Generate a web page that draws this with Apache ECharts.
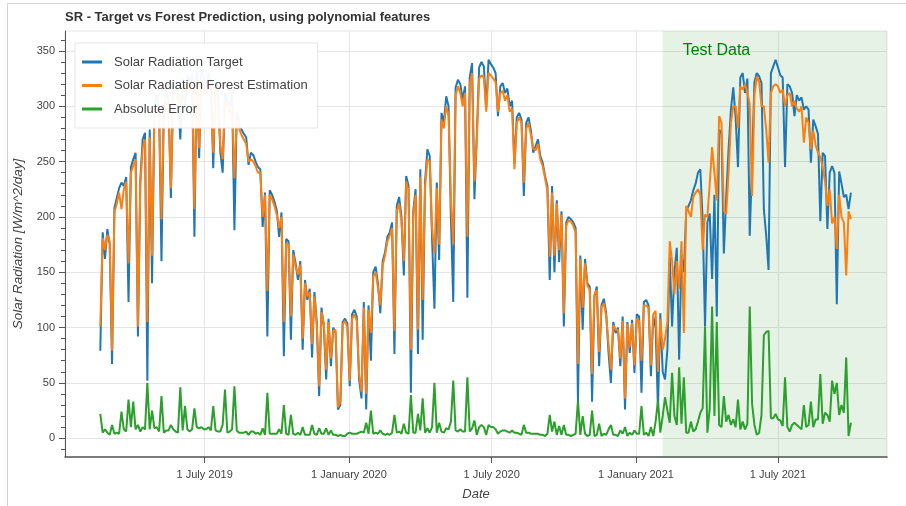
<!DOCTYPE html>
<html><head><meta charset="utf-8">
<script src="https://cdn.jsdelivr.net/npm/echarts@6/dist/echarts.min.js"></script>
<style>
html,body{margin:0;padding:0;background:#fff;}
#chart{position:absolute;left:0;top:0;width:906px;height:506px;}
#frame{position:absolute;left:7px;top:3px;width:899px;height:503px;border-left:1px solid #d4d4d4;border-top:1px solid #d4d4d4;pointer-events:none;}
</style></head><body>
<div id="chart"></div><div id="frame"></div>
<script>
// ---- data ----
const startDate = '2019-02-18';
const stepDays = 3;
const seriesNames = ['Solar Radiation Target', 'Solar Radiation Forest Estimation', 'Absolute Error'];
const target = [
79,186,162,189,175,67,208,217,226,231,
228,236,123,245,252,258,92,233,270,276,
52,279,140,300,310,296,160,300,312,305,
217,318,322,310,270,325,300,328,320,330,
182,332,253,335,326,318,330,322,244,325,
318,259,240,312,305,300,310,188,295,285,
279,275,272,247,258,256,250,245,243,191,
222,92,224,220,214,206,182,204,74,180,
178,89,170,158,143,160,80,143,125,135,
73,132,105,38,118,100,53,108,65,100,
95,26,30,105,108,104,47,112,116,110,
53,36,123,26,120,70,150,155,140,113,
160,168,182,186,195,76,210,218,200,147,
237,228,41,205,225,76,243,89,231,261,
255,180,117,231,161,294,285,309,300,200,
123,317,324,320,306,318,127,326,339,216,
273,335,340,336,298,342,338,335,330,291,
318,321,312,316,300,305,248,290,294,288,
219,285,290,278,258,264,270,255,249,237,
228,143,228,150,215,159,205,101,195,200,
198,195,190,33,165,98,162,140,137,33,
128,137,65,120,126,113,77,50,105,95,
100,65,110,26,105,77,107,59,112,110,
41,123,125,120,56,110,100,26,113,60,
53,80,164,101,150,172,71,165,150,205,
210,215,224,230,240,243,197,101,195,203,
144,220,110,279,275,167,218,261,297,317,
290,245,326,330,312,325,183,250,322,330,
327,321,207,183,152,330,336,342,335,328,
326,245,320,318,312,291,310,305,308,297,
300,297,249,288,282,275,196,258,255,189,
240,246,240,121,241,230,218,220,207,222
];
const forecast = [
101,181,170,184,178,79,204,212,222,207,
225,232,158,240,246,252,101,228,262,270,
105,272,165,292,300,290,198,295,305,298,
226,310,315,305,300,318,318,320,312,322,
207,322,262,325,318,310,320,315,258,318,
312,265,252,305,300,294,302,235,288,280,
274,270,266,250,252,250,246,240,240,200,
220,133,220,216,210,202,190,200,105,176,
175,110,166,155,148,157,90,140,128,132,
85,128,102,47,114,104,62,105,72,97,
98,28,33,103,106,100,52,108,112,106,
58,42,118,40,116,95,146,150,136,120,
156,165,178,183,190,97,205,212,196,160,
232,224,80,200,220,98,236,125,226,252,
250,190,167,226,175,288,280,300,292,215,
175,310,318,312,300,312,182,320,330,232,
270,325,328,326,295,330,328,325,322,295,
312,314,305,310,295,298,243,285,290,285,
231,280,285,274,262,260,266,252,246,235,
224,164,222,165,212,170,202,113,192,197,
196,192,186,67,162,118,158,138,134,58,
130,134,78,118,122,110,85,62,102,98,
98,72,106,36,103,82,104,66,108,106,
70,120,120,118,66,112,115,60,108,80,
90,105,178,160,130,160,135,178,95,210,
205,200,218,222,225,220,170,202,200,230,
263,240,215,291,285,205,203,240,285,300,
300,280,318,315,320,312,302,219,310,327,
322,300,300,279,249,312,318,320,318,312,
315,300,310,312,300,305,298,295,300,267,
290,285,261,278,265,258,254,245,232,210,
225,194,200,171,220,200,195,147,205,198
];
const absError = [
22,5,8,5,3,12,4,5,4,24,
8,6,35,10,33,8,12,6,10,8,
50,8,25,9,10,6,38,5,7,7,
12,8,6,5,46,7,29,8,6,8,
27,10,9,10,8,8,10,7,29,7,
6,6,12,44,5,6,8,47,7,5,
5,5,6,3,6,6,4,5,3,9,
3,41,4,4,4,4,8,4,30,4,
3,21,4,3,5,3,10,3,3,3,
12,4,3,9,4,4,9,3,7,3,
3,2,3,2,2,4,5,4,4,4,
5,6,5,14,4,25,4,5,4,7,
4,3,4,3,5,21,5,6,4,13,
5,4,39,5,5,22,7,36,5,9,
5,10,50,5,14,6,5,9,8,15,
52,7,6,8,6,6,55,6,9,16,
3,10,12,10,3,12,10,10,8,4,
6,7,7,6,5,7,5,5,4,3,
12,5,5,4,4,4,4,3,3,2,
4,21,6,15,3,11,3,12,3,3,
2,3,4,34,3,20,4,2,3,25,
2,3,13,2,4,3,8,12,3,3,
2,7,4,10,2,5,3,7,4,4,
29,3,5,2,10,2,15,34,5,20,
37,25,14,59,20,12,64,13,55,5,
5,15,6,8,15,23,27,101,5,27,
119,20,105,12,10,38,15,21,12,17,
10,35,8,15,8,13,119,31,12,3,
5,21,93,96,97,18,18,22,17,16,
11,55,10,6,12,14,12,10,8,30,
10,12,33,10,17,17,58,13,23,21,
15,52,40,50,21,30,23,73,2,14
];
const xTickDates = ['2019-07-01', '2020-01-01', '2020-07-01', '2021-01-01', '2021-07-01'];
const xTickLabels = ['1 July 2019', '1 January 2020', '1 July 2020', '1 January 2021', '1 July 2021'];
const yTicks = [0, 50, 100, 150, 200, 250, 300, 350];
const yMinorTicks = [-10,10,20,30,40,60,70,80,90,110,120,130,140,160,170,180,190,210,220,230,240,260,270,280,290,310,320,330,340,360];
const xRange = ['2019-01-04', '2021-11-17'];
const yRange = [-17, 368];
const testStart = '2021-02-04';
const testLabel = 'Test Data';

// ---- build ----
const DAY = 86400000;
const utc = s => Date.parse(s + 'T00:00:00Z');
const t0 = utc(startDate);
const dates = target.map((_, i) => t0 + i * stepDays * DAY);
const tickMs = xTickDates.map(utc);
const FONT = '"Liberation Sans", Helvetica, Arial, sans-serif';
const colors = ['#1f77b4', '#ff7f0e', '#2ca02c'];

const mk = (name, vals, c) => ({
  name, type: 'line', data: vals.map((v, i) => [dates[i], v]),
  showSymbol: false, symbol: 'none', sampling: null,
  lineStyle: { width: 2, color: c }, itemStyle: { color: c }, z: 2
});

const chart = echarts.init(document.getElementById('chart'), null, { renderer: 'canvas' });
chart.setOption({
  animation: false,
  textStyle: { fontFamily: FONT },
  color: colors,
  title: {
    text: 'SR - Target vs Forest Prediction, using polynomial features',
    left: 65, top: 11, padding: 0,
    textStyle: { fontSize: 13, fontWeight: 'bold', color: '#333', fontFamily: FONT }
  },
  grid: { left: 65, right: 19, top: 31, bottom: 48, show: true, borderColor: '#e5e5e5', borderWidth: 1, backgroundColor: 'transparent' },
  legend: {
    data: seriesNames, orient: 'vertical', left: 75, top: 43,
    padding: [11, 10, 11, 7], itemGap: 7.5, itemWidth: 20, itemHeight: 3, icon: 'rect',
    backgroundColor: 'rgba(255,255,255,0.95)', borderColor: '#e5e5e5', borderWidth: 1,
    textStyle: { fontSize: 13, color: '#444', fontFamily: FONT, padding: [0, 0, 0, 7], lineHeight: 16 }
  },
  xAxis: {
    type: 'value', min: utc(xRange[0]), max: utc(xRange[1]),
    axisLine: { show: true, onZero: false, lineStyle: { color: '#555', width: 1.5 } },
    axisTick: { show: true, customValues: tickMs, length: 6, lineStyle: { color: '#555' } },
    axisLabel: {
      customValues: tickMs, margin: 12, fontSize: 11, color: '#444', fontFamily: FONT,
      formatter: v => { const k = tickMs.indexOf(v); return k >= 0 ? xTickLabels[k] : ''; }
    },
    splitLine: { show: true, lineStyle: { color: '#e5e5e5', width: 1 } },
    name: 'Date', nameLocation: 'middle', nameGap: 31,
    nameTextStyle: { fontStyle: 'italic', fontSize: 13, color: '#444', fontFamily: FONT }
  },
  yAxis: [{
    type: 'value', min: yRange[0], max: yRange[1],
    axisLine: { show: true, onZero: false, lineStyle: { color: '#555', width: 1 } },
    axisTick: { show: true, customValues: yTicks, length: 6, lineStyle: { color: '#555' } },
    axisLabel: { customValues: yTicks, margin: 10, fontSize: 11, color: '#444', fontFamily: FONT },
    splitLine: { show: true, lineStyle: { color: '#e5e5e5', width: 1 } },
    name: 'Solar Radiation [W/m^2/day]', nameLocation: 'middle', nameGap: 38,
    nameTextStyle: { fontStyle: 'italic', fontSize: 13.5, color: '#444', fontFamily: FONT }
  }, {
    type: 'value', min: yRange[0], max: yRange[1], position: 'left',
    axisLine: { show: false },
    axisTick: { show: true, customValues: yMinorTicks, length: 4, lineStyle: { color: '#555' } },
    axisLabel: { show: false },
    splitLine: { show: false }
  }],
  series: [
    mk(seriesNames[0], target, colors[0]),
    mk(seriesNames[1], forecast, colors[1]),
    mk(seriesNames[2], absError, colors[2]),
    {
      type: 'line', data: [], z: 5, silent: true,
      markArea: {
        silent: true,
        itemStyle: { color: 'rgba(0,128,0,0.1)' },
        label: { show: true, position: [20, 12], color: '#008000', fontSize: 16, fontFamily: FONT },
        data: [[{ xAxis: utc(testStart), name: testLabel }, { xAxis: utc(xRange[1]) }]]
      }
    }
  ]
});
</script>
</body></html>
